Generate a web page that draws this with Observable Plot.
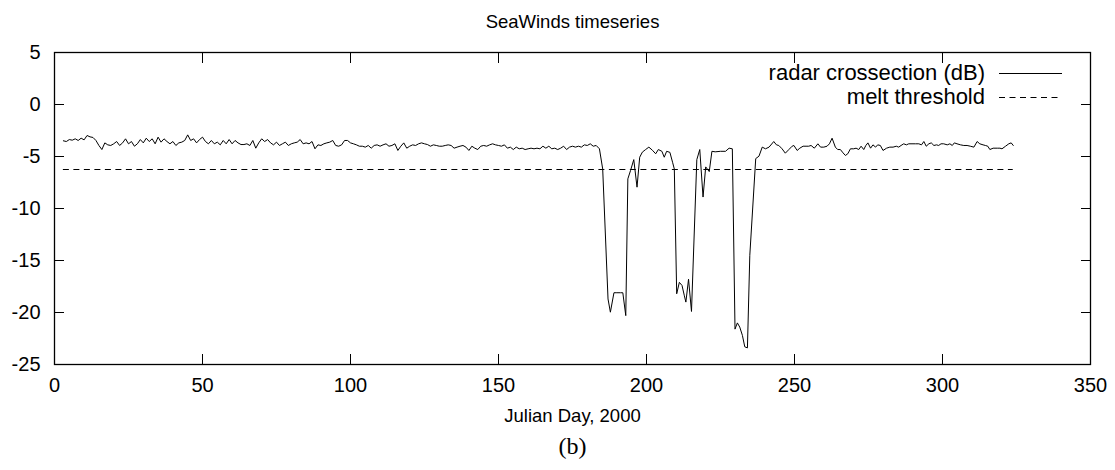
<!DOCTYPE html>
<html><head><meta charset="utf-8">
<script src="https://cdn.jsdelivr.net/npm/d3@7"></script>
<script src="https://cdn.jsdelivr.net/npm/@observablehq/plot@0.6"></script>
<style>
body{margin:0;background:#fff;}
#wrap{position:relative;width:1115px;height:470px;font-family:"Liberation Sans",Arial,Helvetica,sans-serif;color:#000;}
.leg{position:absolute;right:130px;font-size:22px;line-height:24px;white-space:nowrap;text-align:right;}
#legsvg{position:absolute;left:999px;top:61px;}
</style></head><body><div id="wrap"></div>
<script>
// Daily samples before the melt season (day, dB)
const dailyDays = [3,4,5,6,7,8,9,10,11,12,13,14,15,16,17,18,19,20,21,22,23,24,25,26,27,28,29,30,31,32,33,34,35,36,37,38,39,40,41,42,43,44,45,46,47,48,49,50,51,52,53,54,55,56,57,58,59,60,61,62,63,
64,65,66,67,68,69,70,71,72,73,74,75,76,77,78,79,80,81,82,83,84,85,86,87,88,89,90,91,92,93,94,95,96,97,98,99,100,101,102,103,104,105,106,107,108,109,110,111,112,113,114,115,116,117,118,119,120,121,122,123,124,
125,126,127,128,129,130,131,132,133,134,135,136,137,138,139,140,141,142,143,144,145,146,147,148,149,150,151,152,153,154,155,156,157,158,159,160,161,162,163,164,165,166,167,168,169,170,171,172,173,174,175,176,177,178,179,180,181,182,183];
const dailyDb = [-3.49,-3.56,-3.37,-3.43,-3.30,-3.46,-3.24,-3.40,-2.98,-3.11,
-3.17,-3.46,-3.94,-4.33,-3.69,-3.88,-3.94,-3.78,-3.56,-3.94,
-3.69,-3.30,-3.78,-3.56,-4.01,-3.78,-3.37,-3.69,-3.24,-3.56,
-3.30,-3.78,-3.14,-3.62,-3.30,-3.56,-3.78,-3.56,-3.94,-3.69,
-3.62,-3.46,-2.92,-3.46,-3.30,-3.69,-3.37,-3.14,-3.56,-3.78,
-3.46,-3.78,-3.62,-3.88,-3.46,-3.78,-3.37,-3.78,-3.46,-3.69,
-3.85,
-3.85,-3.78,-3.94,-3.46,-4.20,-3.69,-3.30,-3.56,-3.37,-3.69,
-3.88,-3.62,-3.94,-3.78,-3.62,-3.94,-3.78,-3.69,-3.62,-3.37,
-3.78,-3.69,-3.78,-3.56,-4.26,-3.88,-3.94,-3.78,-3.69,-3.62,
-3.46,-3.94,-4.01,-3.88,-3.46,-3.46,-3.69,-3.78,-3.88,-4.01,
-4.01,-4.10,-3.94,-4.20,-3.94,-3.88,-4.01,-3.88,-3.78,-4.01,
-3.94,-3.78,-4.42,-4.01,-3.69,-4.20,-4.01,-3.88,-3.94,-3.78,
-3.69,
-3.78,-3.85,-4.01,-3.88,-3.94,-4.01,-4.01,-3.94,-3.88,-3.94,
-4.20,-4.10,-4.01,-3.94,-4.10,-4.42,-4.01,-4.20,-4.33,-4.01,
-3.94,-4.01,-3.88,-3.78,-3.88,-3.94,-4.01,-3.88,-4.20,-4.10,
-4.33,-4.10,-4.26,-4.20,-4.33,-4.26,-4.20,-4.26,-4.20,-4.26,
-4.01,-4.20,-4.01,-4.26,-4.20,-4.33,-4.20,-4.01,-4.33,-4.10,
-4.01,-4.10,-4.01,-4.10,-3.88,-3.94,-3.78,-4.01,-3.94];

// Melt season samples
const meltDays = [184.1,185.2,187.0,187.8,189,190,191.2,192,193,193.7,194.6,195.7,196.8,197.7,198.6,199.7,200.8,202,203.1,204,205.2,206,206.8,207.9,208.8,209.4,210.2,211.1,212,212.8,213.3,214.2,215.2,217,218,219.1,220,221.2,222.1,223.2,225,226.7,227.9,229,229.9,230.7,231.5,232.4,233.2,234.1,234.9,236.9,238,239.1,240.2,241.4];
const meltDb = [-4.26,-6.2,-18.7,-19.97,-18.1,-18.1,-18.1,-18.1,-20.3,-7.15,-6.35,-5.3,-7.95,-5.07,-4.58,-4.33,-4.1,-4.4,-4.74,-4.33,-4.5,-5.07,-4.5,-4.6,-5.55,-6.2,-18.2,-17.1,-17.4,-18.4,-19.0,-16.8,-19.9,-5.3,-4.33,-8.9,-6.0,-6.45,-4.5,-4.55,-4.5,-4.5,-4.2,-4.26,-21.6,-21.0,-21.4,-22.2,-23.3,-23.4,-14.5,-5.2,-4.97,-4.1,-4.26,-4.1];

// Samples after the melt season
const lateDays = [243.0,243.9,244.7,245.8,246.9,248.1,249.2,249.8,250.9,251.8,252.9,253.9,254.8,255.6,256.7,257.9,258.8,259.9,261.0,261.8,262.7,263.8,264.6,265.5,266.4,267.2,268.0,268.9,270.0,270.8,271.7,272.5,273.4,274.1,274.8,275.7,276.5,277.4,278.1,279.0,279.9,281.1,282.2,283.3,284.4,285.2,286.0,286.9,287.8,288.6,289.7,290.9,292.0,292.9,293.7,294.5,295.4,296.2,297.1,298.0,298.7,299.5,300.4,301.6,302.5,303.3,304.0,304.9,306.1,307.2,308.3,309.4,310.6,311.7,312.6,313.7,314.5,315.3,316.0,317.1,318.5,319.4,320.1,321.3,322.4,323.2,323.9];
const lateDb = [-3.56,-3.88,-3.94,-4.26,-4.68,-4.33,-4.01,-3.94,-4.42,-4.20,-4.01,-4.01,-4.01,-3.94,-4.20,-3.78,-4.10,-4.10,-4.01,-3.78,-3.24,-4.10,-4.33,-4.33,-4.65,-4.90,-4.74,-4.26,-4.26,-4.20,-4.33,-4.01,-4.33,-3.94,-3.69,-4.20,-3.88,-4.10,-3.88,-3.94,-4.42,-4.20,-4.10,-4.10,-4.01,-4.10,-3.94,-3.78,-3.88,-3.78,-3.78,-3.78,-3.78,-3.88,-3.56,-4.01,-3.78,-3.69,-3.94,-3.88,-3.94,-3.78,-3.78,-3.88,-3.78,-3.94,-3.69,-3.78,-3.88,-3.94,-3.94,-4.01,-4.10,-3.56,-3.78,-3.88,-3.94,-4.01,-4.33,-4.20,-4.20,-4.20,-4.26,-4.01,-3.78,-3.69,-3.94];

const meltThreshold = -6.25;
const xTicks = [0,50,100,150,200,250,300,350];
const yTicks = [-25,-20,-15,-10,-5,0,5];
const titleText = "SeaWinds timeseries";
const xLabelText = "Julian Day, 2000";
const captionText = "(b)";
const legendLabels = ["radar crossection (dB)", "melt threshold"];

const days = dailyDays.concat(meltDays, lateDays);
const radarDb = dailyDb.concat(meltDb, lateDb);
const series = days.map((d, i) => ({day: d, db: radarDb[i]}));
const firstDay = days[0], lastDay = days[days.length - 1];
const plainFormat = d => String(d);

const font = '"Liberation Sans", Arial, Helvetica, sans-serif';
const chart = Plot.plot({
  width: 1115, height: 470,
  marginLeft: 54, marginRight: 25, marginTop: 52, marginBottom: 106,
  style: {fontFamily: font, fontSize: "20px", color: "#000", background: "#fff"},
  x: {domain: [0, 350]},
  y: {domain: [-25, 5]},
  marks: [
    Plot.axisX({ticks: xTicks, anchor: "bottom", tickSize: -10, tickPadding: 23, tickFormat: plainFormat, label: null, stroke: "#000"}),
    Plot.axisX({ticks: xTicks, anchor: "top", tickSize: -10, tickFormat: () => "", label: null, stroke: "#000"}),
    Plot.axisY({ticks: yTicks, anchor: "left", tickSize: -10, tickPadding: 24, tickFormat: plainFormat, label: null, stroke: "#000"}),
    Plot.axisY({ticks: yTicks, anchor: "right", tickSize: -10, tickFormat: () => "", label: null, stroke: "#000"}),
    Plot.frame({stroke: "#000", strokeWidth: 1.3}),
    Plot.ruleY([meltThreshold], {x1: () => firstDay, x2: () => lastDay, stroke: "#000", strokeWidth: 1, strokeDasharray: "6,4.5"}),
    Plot.line(series, {x: "day", y: "db", stroke: "#000", strokeWidth: 1}),
    Plot.text([titleText], {text: d => d, frameAnchor: "top", dy: -38, fontSize: 18.5}),
    Plot.text([xLabelText], {text: d => d, frameAnchor: "bottom", dy: 57, fontSize: 18.5}),
    Plot.text([captionText], {text: d => d, frameAnchor: "bottom", dy: 89, fontSize: 24, fontFamily: '"Liberation Serif", "DejaVu Serif", serif'})
  ]
});
const wrap = document.getElementById("wrap");
wrap.appendChild(chart);

// legend (top-right, inside the frame)
legendLabels.forEach((t, i) => {
  const div = document.createElement("div");
  div.className = "leg";
  div.style.top = (61 + i * 24) + "px";
  div.textContent = t;
  wrap.appendChild(div);
});
const ns = "http://www.w3.org/2000/svg";
const ls = document.createElementNS(ns, "svg");
ls.setAttribute("id", "legsvg");
ls.setAttribute("width", 64); ls.setAttribute("height", 48);
[["none"], ["6,4.5"]].forEach(([dash], i) => {
  const ln = document.createElementNS(ns, "line");
  ln.setAttribute("x1", 0); ln.setAttribute("x2", 63);
  ln.setAttribute("y1", 12.5 + i * 24); ln.setAttribute("y2", 12.5 + i * 24);
  ln.setAttribute("stroke", "#000"); ln.setAttribute("stroke-width", 1);
  if (dash !== "none") ln.setAttribute("stroke-dasharray", dash);
  ls.appendChild(ln);
});
wrap.appendChild(ls);
</script>
</body></html>
